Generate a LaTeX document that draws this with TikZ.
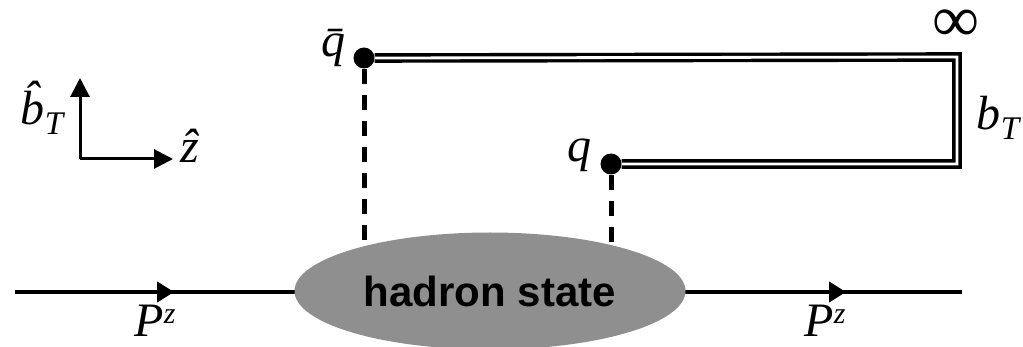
\documentclass[tikz,border=0pt]{standalone}
\usepackage{fontspec}
\setmainfont{Liberation Serif}
\newfontfamily\hsans{Liberation Sans}
\usetikzlibrary{shapes.geometric,arrows.meta,decorations.markings}
\begin{document}
\begin{tikzpicture}[x=1pt,y=-1pt,
  lbl/.style={inner sep=0pt,font=\fontsize{48}{48}\selectfont\itshape},
  dotnode/.style={circle,fill=black,inner sep=0pt,minimum size=21pt},
  wline/.style={line width=3.4pt,double=white,double distance=2.8pt},
  dline/.style={line width=5pt,dash pattern=on 15pt off 11pt},
  axis/.style={line width=3pt,-{Triangle[length=19pt,width=19pt]}},
  mom/.style={line width=4.5pt,postaction={decorate},decoration={markings,
    mark=at position 0.168 with {\arrow{Triangle[length=17pt,width=20pt]}},
    mark=at position 0.8775 with {\arrow{Triangle[length=17pt,width=20pt]}}}}
]
\useasboundingbox (0,0) rectangle (1023,347);
% coordinates
\coordinate (L) at (15,292);
\coordinate (R) at (962,292);
\coordinate (c1) at (957,57);
\coordinate (c2) at (957,164);
\coordinate (d1) at (364,252);
\coordinate (d2) at (611,252);
\coordinate (O) at (80,159);
\coordinate (AY) at (80,78);
\coordinate (AZ) at (173,159);
% dots
\node[dotnode] (qb) at (364,58) {};
\node[dotnode] (q) at (611,164) {};
% momentum line
\draw[mom] (L) -- (R);
% dashed lines
\draw[dline] (qb) -- (d1);
\draw[dline] (q) -- (d2);
% wilson line
\draw[wline] (qb.east) -- (c1) -- (c2) -- (q.east);
% hadron
\node[ellipse,fill={rgb,255:red,143;green,143;blue,143},inner sep=0pt,
  minimum width=391pt,minimum height=117pt,
  font=\hsans\bfseries\fontsize{42}{42}\selectfont] (E) at (490,291) {hadron state};
% axes
\draw[axis] (O) -- (AY);
\draw[axis] (O) -- (AZ);
% labels
\node[lbl] (lbT) at (42,108) {\^{b}\raisebox{-10pt}{\fontsize{33}{33}\selectfont T}};
\node[lbl] (lz) at (190,146) {\^{z}};
\node[lbl] (lqb) at (333,48) {\={q}};
\node[lbl] (lq) at (579,155) {q};
\node[lbl,font=\fontsize{66}{66}\selectfont,text height=16pt,text depth=0pt] (linf) at (956,34) {∞};
\node[lbl] (lb) at (998,118) {b\raisebox{-10pt}{\fontsize{33}{33}\selectfont T}};
\node[lbl] (P1) at (155,321) {P\raisebox{13pt}{\fontsize{30}{30}\selectfont z}};
\node[lbl] (P2) at (825,321) {P\raisebox{13pt}{\fontsize{30}{30}\selectfont z}};
\end{tikzpicture}
\end{document}
